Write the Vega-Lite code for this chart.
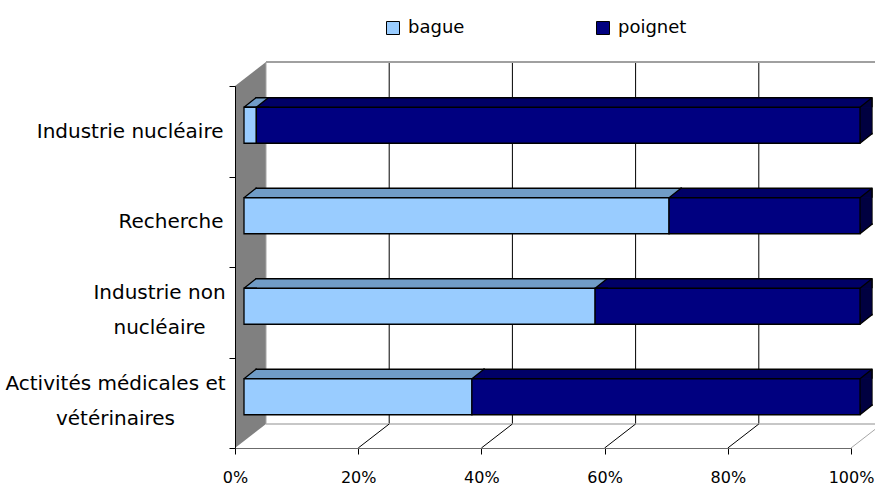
{
  "$schema": "https://vega.github.io/schema/vega-lite/v6.json",
  "width": 616,
  "height": 362,
  "autosize": "none",
  "padding": {"left": 235, "top": 86, "right": 24, "bottom": 38},
  "background": "white",
  "datasets": {
    "porteurs": [
      {"cat": "Industrie nucléaire", "serie": "bague", "value": 2},
      {"cat": "Industrie nucléaire", "serie": "poignet", "value": 98},
      {"cat": "Recherche", "serie": "bague", "value": 69},
      {"cat": "Recherche", "serie": "poignet", "value": 31},
      {"cat": "Industrie non nucléaire", "serie": "bague", "value": 57},
      {"cat": "Industrie non nucléaire", "serie": "poignet", "value": 43},
      {"cat": "Activités médicales et vétérinaires", "serie": "bague", "value": 37},
      {"cat": "Activités médicales et vétérinaires", "serie": "poignet", "value": 63}
    ],
    "graduations": [
      {"t": 0}, {"t": 0.2}, {"t": 0.4}, {"t": 0.6}, {"t": 0.8}, {"t": 1}
    ]
  },
  "layer": [
    {
      "data": {"name": "graduations"},
      "layer": [
        {
          "transform": [{"filter": "datum.t == 0"}],
          "mark": {"type": "rect", "fill": "#808080", "x2Offset": 31, "y2Offset": -24},
          "encoding": {
            "x": {
              "field": "t", "type": "quantitative", "scale": {"domain": [0, 1], "nice": false}, "title": null,
              "axis": {
                "values": [0, 0.2, 0.4, 0.6, 0.8, 1],
                "format": ".0%",
                "labelFontSize": 16,
                "labelColor": "#000000",
                "labelPadding": 15,
                "labelFlush": false,
                "labelOverlap": false,
                "tickSize": 6,
                "tickColor": "#000000",
                "domainColor": "#6b6b6b",
                "grid": false,
                "zindex": 1
              }
            },
            "x2": {"field": "t"},
            "y": {"datum": 0, "type": "quantitative", "scale": {"domain": [0, 1], "nice": false}, "axis": null, "title": null},
            "y2": {"datum": 1}
          }
        },
        {
          "transform": [{"filter": "datum.t == 0"}],
          "mark": {"type": "point", "shape": "M0,0 L31,-24 L-1,-24 L-1,0 Z", "size": 4, "filled": true, "fill": "white", "strokeWidth": 0, "opacity": 1},
          "encoding": {
            "x": {"field": "t", "type": "quantitative", "title": null},
            "y": {"datum": 1, "type": "quantitative", "axis": null, "title": null}
          }
        },
        {
          "transform": [{"filter": "datum.t == 0"}],
          "mark": {"type": "point", "shape": "M0,0 L31,-24 L32,-24 L32,1 L0,1 Z", "size": 4, "filled": true, "fill": "white", "strokeWidth": 0, "opacity": 1},
          "encoding": {
            "x": {"field": "t", "type": "quantitative", "title": null},
            "y": {"datum": 0, "type": "quantitative", "axis": null, "title": null}
          }
        },
        {
          "mark": {"type": "rule", "xOffset": 31, "yOffset": -24, "y2Offset": -24, "strokeWidth": 1},
          "encoding": {
            "x": {"field": "t", "type": "quantitative", "title": null},
            "y": {"datum": 0, "type": "quantitative", "axis": null, "title": null},
            "y2": {"datum": 1},
            "stroke": {"condition": {"test": "datum.t == 0", "value": "#a6a6a6"}, "value": "#000000"}
          }
        },
        {
          "transform": [{"filter": "datum.t == 0"}],
          "mark": {"type": "rule", "xOffset": 31, "x2Offset": 31, "yOffset": -24, "stroke": "#a0a0a0", "strokeWidth": 2},
          "encoding": {
            "x": {"datum": 0, "type": "quantitative", "title": null},
            "x2": {"datum": 1},
            "y": {"datum": 1, "type": "quantitative", "axis": null, "title": null}
          }
        },
        {
          "transform": [{"filter": "datum.t == 0"}],
          "mark": {"type": "rule", "xOffset": 31, "x2Offset": 31, "yOffset": -24, "stroke": "#b4b4b4", "strokeWidth": 1.5},
          "encoding": {
            "x": {"datum": 0, "type": "quantitative", "title": null},
            "x2": {"datum": 1},
            "y": {"datum": 0, "type": "quantitative", "axis": null, "title": null}
          }
        },
        {
          "transform": [{"filter": "datum.t > 0"}],
          "mark": {"type": "rule", "x2Offset": 31, "y2Offset": -24, "strokeWidth": 1},
          "encoding": {
            "x": {"field": "t", "type": "quantitative", "title": null},
            "x2": {"field": "t"},
            "y": {"datum": 0, "type": "quantitative", "axis": null, "title": null},
            "y2": {"datum": 0},
            "stroke": {"condition": {"test": "datum.t == 1", "value": "#a6a6a6"}, "value": "#000000"}
          }
        }
      ]
    },
    {
      "data": {"name": "porteurs"},
      "transform": [
        {"stack": "value", "groupby": ["cat"], "sort": [{"field": "serie", "order": "ascending"}], "offset": "normalize", "as": ["x0", "x1"]}
      ],
      "layer": [
        {
          "mark": {"type": "bar", "height": 36, "xOffset": 21, "x2Offset": 21, "yOffset": -15.5, "stroke": "#000000", "strokeWidth": 1.3},
          "encoding": {
            "x": {"field": "x0", "type": "quantitative", "scale": {"domain": [0, 1], "nice": false}, "title": null},
            "x2": {"field": "x1"},
            "y": {
              "field": "cat", "type": "nominal",
              "sort": ["Industrie nucléaire", "Recherche", "Industrie non nucléaire", "Activités médicales et vétérinaires"],
              "scale": {"paddingInner": 0, "paddingOuter": 0},
              "title": null,
              "axis": {
                "labelExpr": "datum.value == 'Industrie non nucléaire' ? ['Industrie non', 'nucléaire'] : datum.value == 'Activités médicales et vétérinaires' ? ['Activités médicales et', 'vétérinaires'] : datum.label",
                "labelOffset": {"condition": {"test": "datum.value == 'Industrie non nucléaire' || datum.value == 'Activités médicales et vétérinaires'", "value": -19.5}, "value": 0},
                "labelAlign": {"condition": {"test": "datum.value == 'Industrie non nucléaire' || datum.value == 'Activités médicales et vétérinaires'", "value": "center"}, "value": "right"},
                "labelPadding": {"condition": [
                  {"test": "datum.value == 'Industrie non nucléaire'", "value": 70},
                  {"test": "datum.value == 'Activités médicales et vétérinaires'", "value": 114}
                ], "value": 6},
                "tickBand": "extent",
                "tickSize": 6,
                "tickColor": "#000000",
                "domainColor": "#000000",
                "labelFontSize": 20,
                "labelColor": "#000000",
                "labelLineHeight": 35,
                "labelLimit": 300,
                "grid": false,
                "zindex": 1
              }
            },
            "fill": {"condition": {"test": "datum.serie == 'bague'", "value": "#709cc7"}, "value": "#000066"}
          }
        },
        {
          "mark": {"type": "point", "shape": "M13,0 L0,0 L12,-9.5 L13,-9.5", "size": 4, "filled": true, "xOffset": 9, "yOffset": -24, "stroke": "#000000", "strokeWidth": 1.3, "strokeJoin": "bevel", "opacity": 1},
          "encoding": {
            "x": {"field": "x0", "type": "quantitative", "title": null},
            "y": {"field": "cat", "type": "nominal", "sort": ["Industrie nucléaire", "Recherche", "Industrie non nucléaire", "Activités médicales et vétérinaires"], "title": null},
            "fill": {"condition": {"test": "datum.serie == 'bague'", "value": "#709cc7"}, "value": "#000066"}
          }
        },
        {
          "transform": [{"filter": "datum.serie == 'poignet'"}],
          "mark": {"type": "bar", "height": 26.5, "xOffset": 9, "x2Offset": 20.5, "yOffset": -10.75, "fill": "#000040", "strokeWidth": 0},
          "encoding": {
            "x": {"field": "x1", "type": "quantitative", "title": null},
            "x2": {"field": "x1"},
            "y": {"field": "cat", "type": "nominal", "sort": ["Industrie nucléaire", "Recherche", "Industrie non nucléaire", "Activités médicales et vétérinaires"], "title": null}
          }
        },
        {
          "transform": [{"filter": "datum.serie == 'poignet'"}],
          "mark": {"type": "point", "shape": "M0,0 L12,-9.5 L12,0", "size": 4, "filled": true, "fill": "#000040", "xOffset": 9, "yOffset": -24, "stroke": "#000000", "strokeWidth": 1.3, "strokeJoin": "bevel", "opacity": 1},
          "encoding": {
            "x": {"field": "x1", "type": "quantitative", "title": null},
            "y": {"field": "cat", "type": "nominal", "sort": ["Industrie nucléaire", "Recherche", "Industrie non nucléaire", "Activités médicales et vétérinaires"], "title": null}
          }
        },
        {
          "transform": [{"filter": "datum.serie == 'poignet'"}],
          "mark": {"type": "point", "shape": "M12,-10.5 L12,-9.5 L0,0 L0,-10.5", "size": 4, "filled": true, "fill": "#000040", "xOffset": 9, "yOffset": 12, "stroke": "#000000", "strokeWidth": 1.3, "strokeJoin": "bevel", "opacity": 1},
          "encoding": {
            "x": {"field": "x1", "type": "quantitative", "title": null},
            "y": {"field": "cat", "type": "nominal", "sort": ["Industrie nucléaire", "Recherche", "Industrie non nucléaire", "Activités médicales et vétérinaires"], "title": null}
          }
        },
        {
          "mark": {"type": "bar", "height": 36, "xOffset": 9, "x2Offset": 9, "yOffset": -6, "stroke": "#000000", "strokeWidth": 1.3},
          "encoding": {
            "x": {"field": "x0", "type": "quantitative", "title": null},
            "x2": {"field": "x1"},
            "y": {"field": "cat", "type": "nominal", "sort": ["Industrie nucléaire", "Recherche", "Industrie non nucléaire", "Activités médicales et vétérinaires"], "title": null},
            "fill": {
              "field": "serie", "type": "nominal",
              "scale": {"domain": ["bague", "poignet"], "range": ["#99ccff", "#000080"]},
              "legend": {
                "orient": "none", "legendX": 149, "legendY": -67, "direction": "horizontal", "title": null,
                "symbolType": "square", "symbolSize": 169, "symbolStrokeColor": "#000000", "symbolStrokeWidth": 1,
                "labelFontSize": 18, "labelColor": "#000000", "labelOffset": 6, "columnPadding": 129, "padding": 0
              }
            }
          }
        }
      ]
    }
  ],
  "resolve": {"scale": {"y": "independent"}, "axis": {"y": "independent"}},
  "config": {
    "font": "DejaVu Sans",
    "view": {"stroke": null},
    "legend": {"labelFont": "DejaVu Sans"}
  }
}
